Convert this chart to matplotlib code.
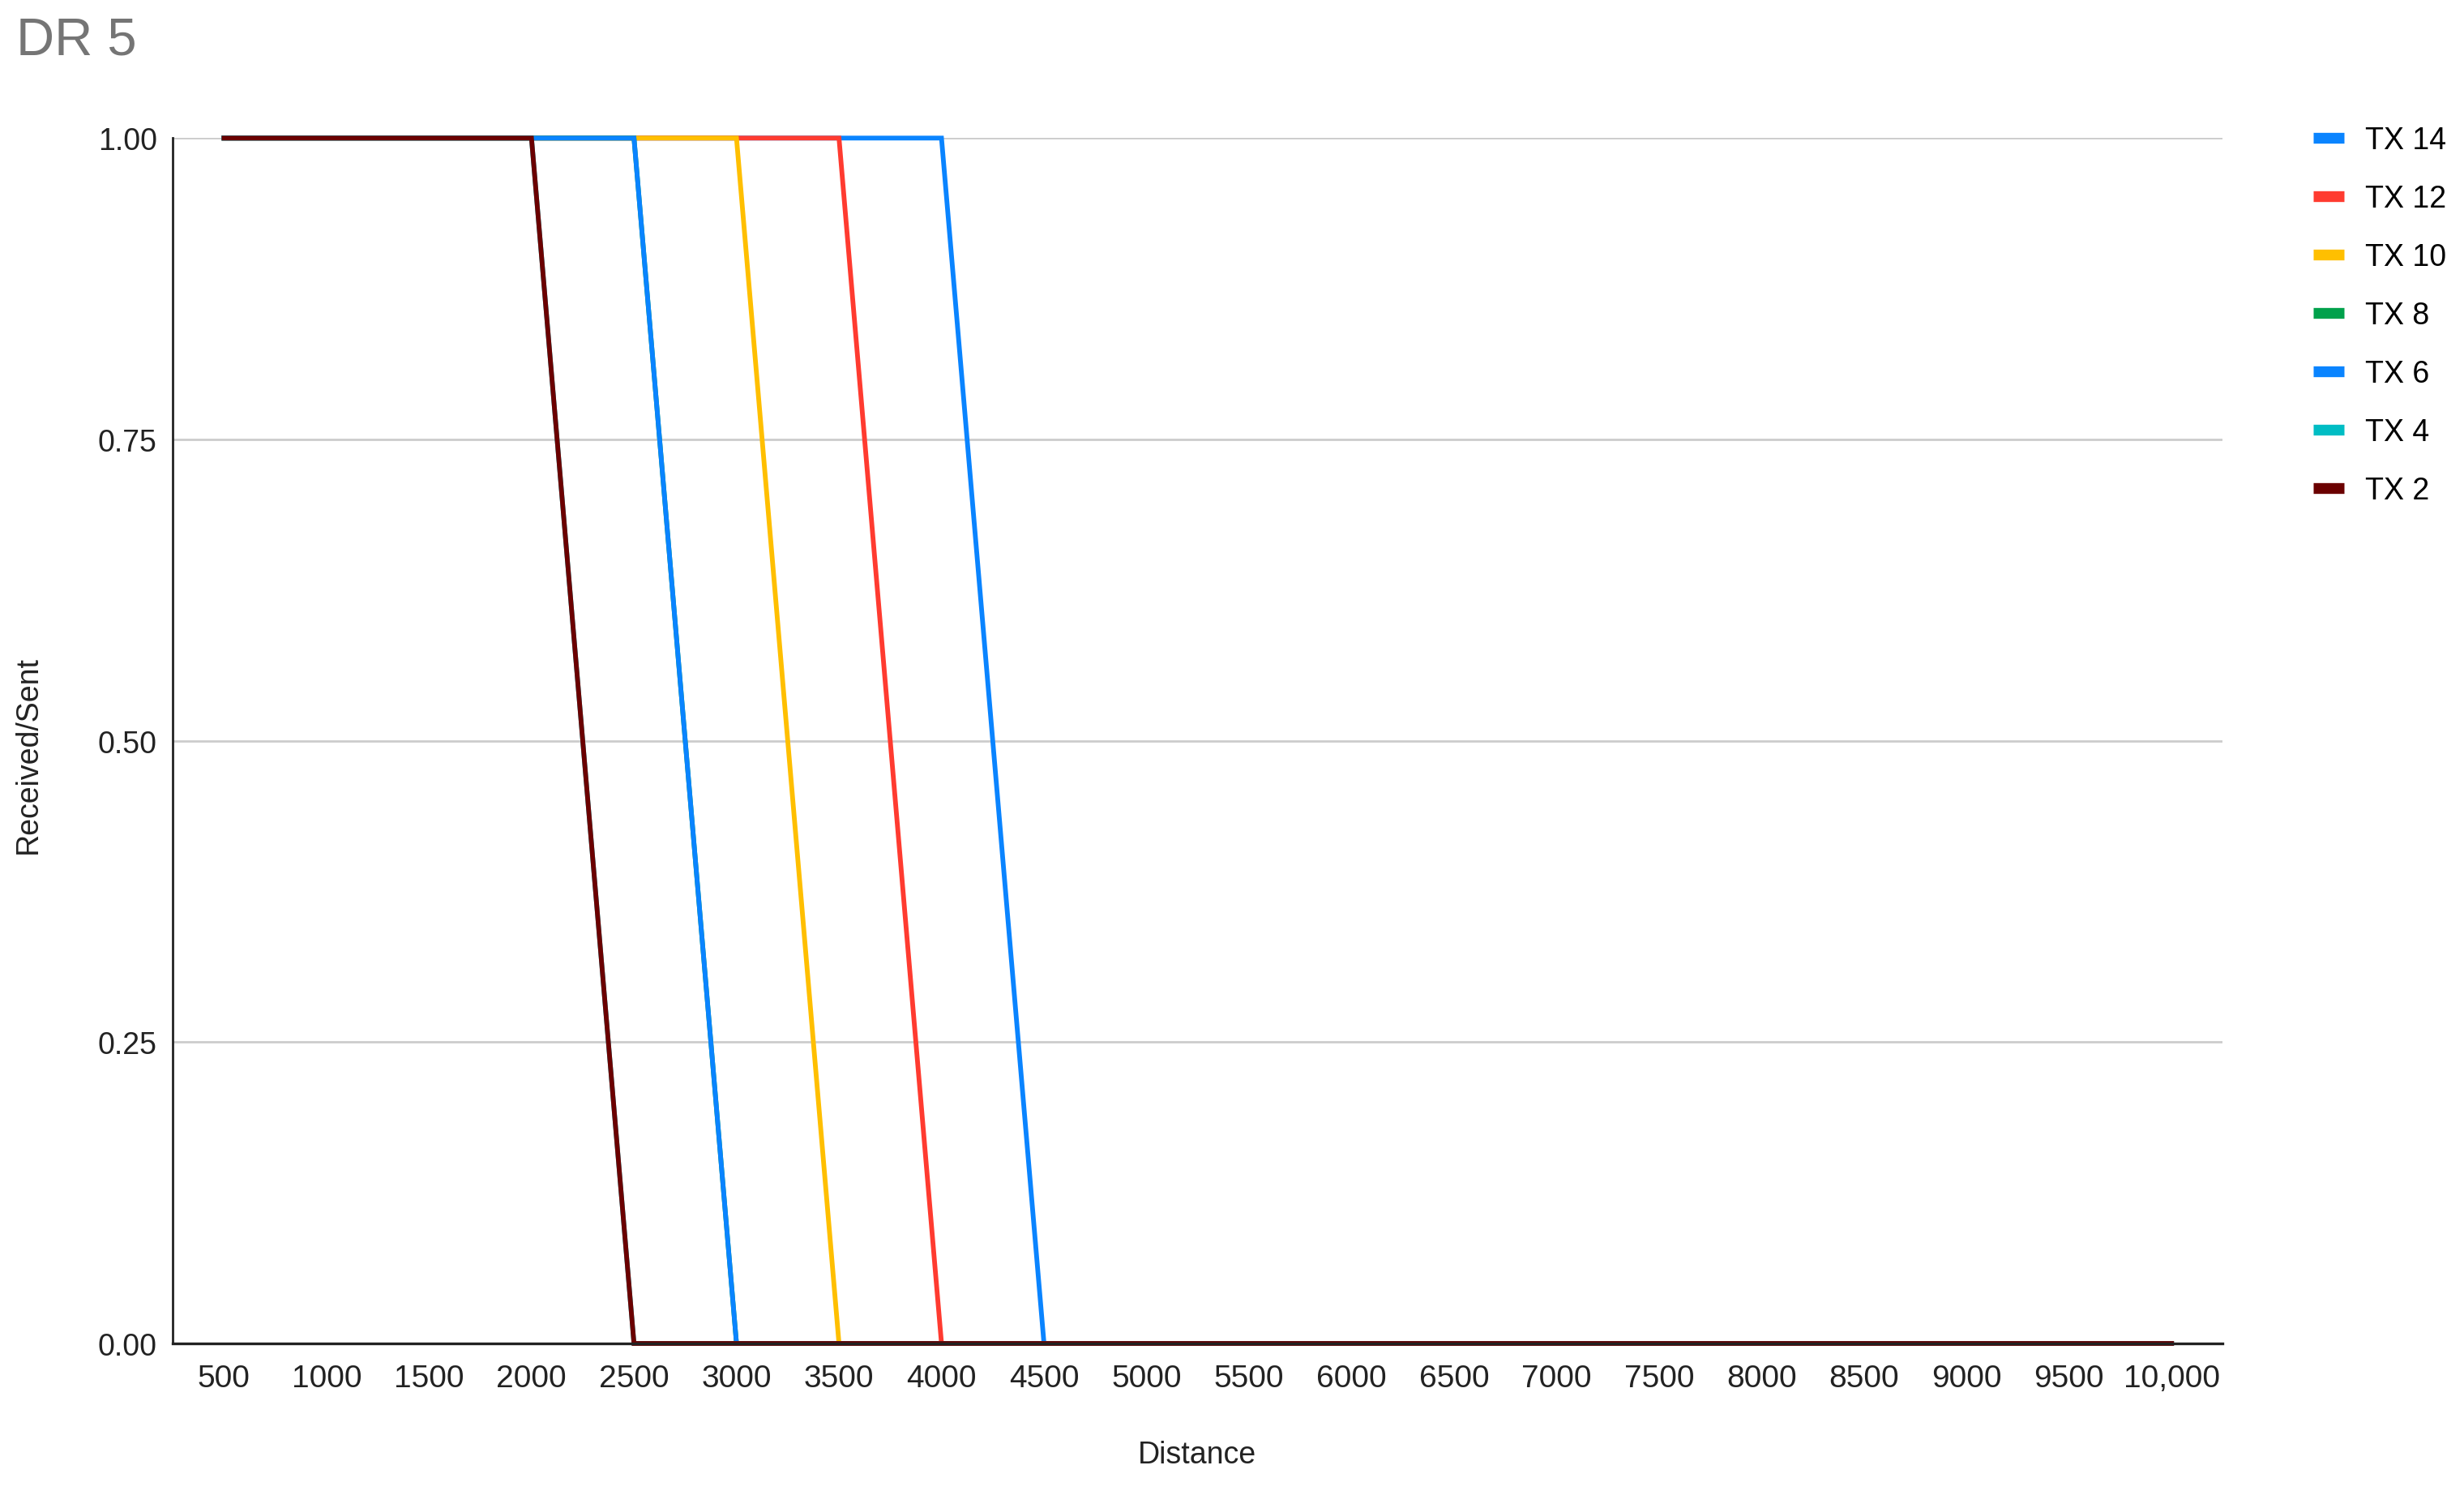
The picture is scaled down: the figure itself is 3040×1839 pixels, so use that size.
import matplotlib.pyplot as plt

plt.rcParams['font.family'] = ['Liberation Sans', 'DejaVu Sans']

# distances (categorical x axis)
distances = [500, 1000, 1500, 2000, 2500, 3000, 3500, 4000, 4500, 5000,
             5500, 6000, 6500, 7000, 7500, 8000, 8500, 9000, 9500, 10000]
tick_labels = ['500', '1000', '1500', '2000', '2500', '3000', '3500', '4000', '4500', '5000',
               '5500', '6000', '6500', '7000', '7500', '8000', '8500', '9000', '9500', '10,000']

# received/sent ratio per transmit power
tx14 = [1, 1, 1, 1, 1, 1, 1, 1, 0, 0, 0, 0, 0, 0, 0, 0, 0, 0, 0, 0]
tx12 = [1, 1, 1, 1, 1, 1, 1, 0, 0, 0, 0, 0, 0, 0, 0, 0, 0, 0, 0, 0]
tx10 = [1, 1, 1, 1, 1, 1, 0, 0, 0, 0, 0, 0, 0, 0, 0, 0, 0, 0, 0, 0]
tx8 = [1, 1, 1, 1, 1, 0, 0, 0, 0, 0, 0, 0, 0, 0, 0, 0, 0, 0, 0, 0]
tx6 = [1, 1, 1, 1, 1, 0, 0, 0, 0, 0, 0, 0, 0, 0, 0, 0, 0, 0, 0, 0]
tx4 = [1, 1, 1, 1, 0, 0, 0, 0, 0, 0, 0, 0, 0, 0, 0, 0, 0, 0, 0, 0]
tx2 = [1, 1, 1, 1, 0, 0, 0, 0, 0, 0, 0, 0, 0, 0, 0, 0, 0, 0, 0, 0]

series = [('TX 14', tx14, '#0A84FF'),
          ('TX 12', tx12, '#FF3B30'),
          ('TX 10', tx10, '#FFBF00'),
          ('TX 8', tx8, '#00A14B'),
          ('TX 6', tx6, '#0A84FF'),
          ('TX 4', tx4, '#00BDC4'),
          ('TX 2', tx2, '#6B0000')]

fig = plt.figure(figsize=(15.2, 9.2), dpi=200)
ax = fig.add_axes([0.0701, 0.0989, 0.832, 0.808])

x = list(range(len(distances)))
for label, values, color in series:
    ax.plot(x, values, color=color, linewidth=2.1, label=label, clip_on=False,
            solid_joinstyle='miter')

ax.set_xlim(-0.5, len(distances) - 0.5)
ax.set_ylim(0, 1)
ax.set_xticks(x)
ax.set_xticklabels(tick_labels)
ax.set_yticks([0, 0.25, 0.5, 0.75, 1.0])
ax.set_yticklabels(['0.00', '0.25', '0.50', '0.75', '1.00'])
ax.tick_params(axis='both', length=0, labelsize=13.5, colors='#222222')
ax.tick_params(axis='x', pad=9, labelsize=14)
ax.tick_params(axis='y', pad=7)
ax.grid(axis='y', color='#cccccc', linewidth=1.0)
ax.set_axisbelow(True)
for s in ['top', 'right']:
    ax.spines[s].set_visible(False)
ax.spines['left'].set_color('#222222')
ax.spines['bottom'].set_color('#222222')
ax.spines['left'].set_linewidth(1.0)
ax.spines['bottom'].set_linewidth(1.2)

fig.text(1477 / 3040, 1 - 1795 / 1840, 'Distance', ha='center', va='center',
         fontsize=13.5, color='#222222')
fig.text(35 / 3040, 1 - 931 / 1840, 'Received/Sent', ha='center', va='center',
         rotation=90, fontsize=13.5, color='#222222')
fig.text(20 / 3040, 1 - 50 / 1840, 'DR 5', ha='left', va='center',
         fontsize=23.5, color='#757575')

leg_handles = [plt.Line2D([0], [0], color=c, linewidth=4.8, solid_capstyle='butt')
               for _, _, c in series]
fig.legend(leg_handles, [s[0] for s in series], loc='upper left',
           bbox_to_anchor=(2854 / 3040, 1 - 156 / 1840), frameon=False,
           fontsize=13.5, handlelength=1.0, handletextpad=0.7, labelspacing=0.96,
           borderpad=0, borderaxespad=0)

fig.savefig('out.png', dpi=200)
